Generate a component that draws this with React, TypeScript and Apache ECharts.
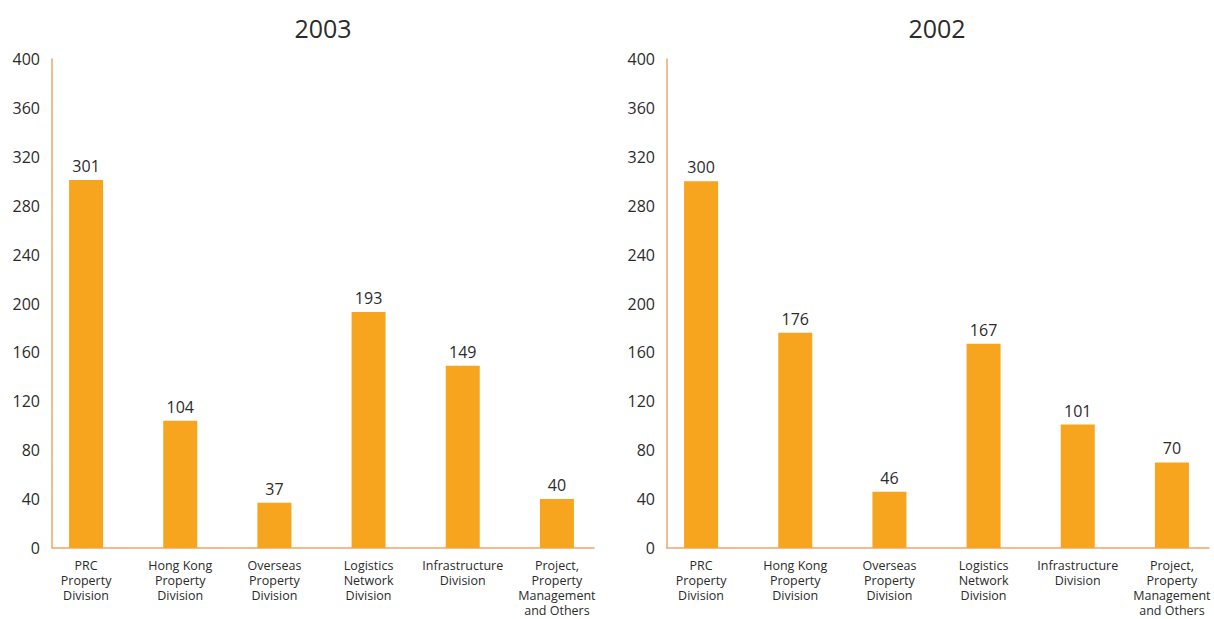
import React, { useEffect, useRef } from "react";
import * as echarts from "echarts";

const categories = [
  "PRC\nProperty\nDivision",
  "Hong Kong\nProperty\nDivision",
  "Overseas\nProperty\nDivision",
  "Logistics\nNetwork\nDivision",
  "Infrastructure\nDivision",
  "Project,\nProperty\nManagement\nand Others",
];
const values2003 = [301, 104, 37, 193, 149, 40];
const values2002 = [300, 176, 46, 167, 101, 70];
const yTicks = { min: 0, max: 400, interval: 40 };
const titles = ["2003", "2002"];

const FONT = "'Open Sans', sans-serif";
const BAR = "#F7A51E";
const AXIS = "#F2A56B";
const TEXT = "#2b2b2b";

export default function App() {
  const ref = useRef<HTMLDivElement>(null);
  useEffect(() => {
    if (!ref.current) return;
    const chart = echarts.init(ref.current, undefined, { renderer: "svg" });
    const top = 59;
    const height = 489;
    const panels = [
      { axisLeft: 52, axisWidth: 542, barLeft: 39, barWidth: 565, data: values2003, title: titles[0], cx: 323 },
      { axisLeft: 667, axisWidth: 542, barLeft: 654, barWidth: 565, data: values2002, title: titles[1], cx: 937 },
    ];
    const grid: any[] = [];
    const xAxis: any[] = [];
    const yAxis: any[] = [];
    const series: any[] = [];
    panels.forEach((p, i) => {
      grid.push({ left: p.axisLeft, top, width: p.axisWidth, height, outerBoundsMode: "none", containLabel: false });
      grid.push({ left: p.barLeft, top, width: p.barWidth, height, outerBoundsMode: "none", containLabel: false });
      const ga = i * 2;
      const gb = i * 2 + 1;
      xAxis.push({
        type: "category",
        gridIndex: ga,
        data: categories,
        axisLine: { show: true, lineStyle: { color: AXIS, width: 1.5 } },
        axisTick: { show: false },
        axisLabel: { show: false },
      });
      xAxis.push({
        type: "category",
        gridIndex: gb,
        data: categories,
        axisLine: { show: false },
        axisTick: { show: false },
        axisLabel: {
          show: true,
          interval: 0,
          margin: 10,
          color: TEXT,
          fontFamily: FONT,
          fontSize: 12.5,
          lineHeight: 15,
        },
      });
      yAxis.push({
        type: "value",
        gridIndex: ga,
        min: yTicks.min,
        max: yTicks.max,
        interval: yTicks.interval,
        axisLine: { show: true, lineStyle: { color: AXIS, width: 1.5 } },
        axisTick: { show: false },
        splitLine: { show: false },
        axisLabel: { color: TEXT, fontFamily: FONT, fontSize: 16, margin: 12 },
      });
      yAxis.push({
        type: "value",
        gridIndex: gb,
        min: yTicks.min,
        max: yTicks.max,
        interval: yTicks.interval,
        show: false,
      });
      series.push({
        type: "bar",
        xAxisIndex: gb,
        yAxisIndex: gb,
        data: p.data,
        barWidth: 34,
        itemStyle: { color: BAR },
        label: {
          show: true,
          position: "top",
          distance: 6,
          color: TEXT,
          fontFamily: FONT,
          fontSize: 16,
        },
      });
    });
    chart.setOption({
      animation: false,
      backgroundColor: "#ffffff",
      grid,
      xAxis,
      yAxis,
      series,
      graphic: panels.map((p) => ({
        type: "text",
        x: p.cx,
        y: 28,
        style: {
          text: p.title,
          align: "center",
          verticalAlign: "middle",
          fill: TEXT,
          font: `25px ${FONT}`,
        },
      })),
    });
    return () => chart.dispose();
  }, []);
  return (
    <div
      ref={ref}
      style={{ position: "fixed", left: 0, top: 0, width: 1214, height: 619 }}
    />
  );
}
